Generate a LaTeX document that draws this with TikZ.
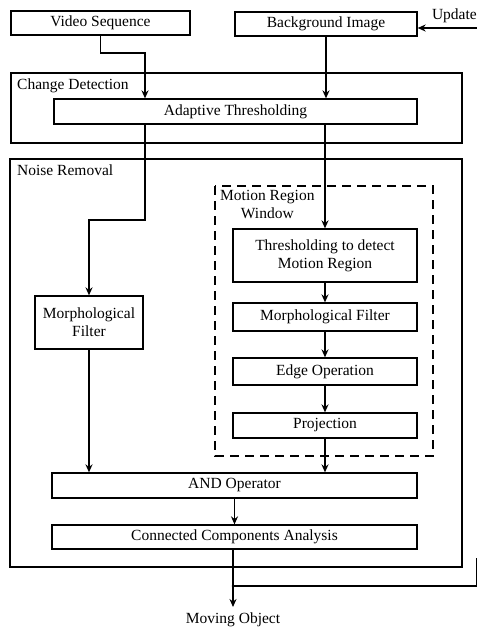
\documentclass[tikz,border=0pt]{standalone}
\usepackage{fontspec}
\setmainfont{Liberation Serif}
\usetikzlibrary{arrows.meta}
\begin{document}
\begin{tikzpicture}[x=1pt,y=-1pt,
  every node/.style={font=\fontsize{15.5}{18}\selectfont},
  box/.style={draw,line width=1.3pt,rectangle,inner sep=0pt,align=center},
  frame/.style={draw,line width=1.3pt},
  dframe/.style={draw,line width=2.6pt,dash pattern=on 9pt off 6pt},
  arr/.style={line width=1.3pt,-{Stealth[length=8pt,width=7pt]}},
  ln/.style={line width=1.3pt},
  lbl/.style={anchor=north west,inner sep=0pt}]
\useasboundingbox (0,0) rectangle (477,630);
% frames
\draw[frame] (11,73) rectangle (462,143);
\node[lbl] (cdl) at (17,79) {Change Detection};
\draw[frame] (10,159) rectangle (462,567);
\node[lbl] (nrl) at (17,165) {Noise Removal};
\draw[dframe] (215,186) rectangle (433,456);
\node[lbl,align=center] (mrl) at (220,190) {Motion Region\\Window};
% boxes
\node[box,minimum width=179pt,minimum height=24pt] (vid) at (100.5,23) {Video Sequence};
\node[box,minimum width=182pt,minimum height=24pt] (bg) at (326,24) {Background Image};
\node[anchor=south east,inner sep=0pt] (upd) at (477,23) {Update};
\node[box,minimum width=363pt,minimum height=25pt] (adapt) at (235.5,111.5) {Adaptive Thresholding};
\node[box,minimum width=108pt,minimum height=53pt] (mf1) at (89,322.5) {Morphological\\Filter};
\node[box,minimum width=184pt,minimum height=53pt] (thr) at (325,255.5) {Thresholding to detect\\Motion Region};
\node[box,minimum width=184pt,minimum height=28pt] (mf2) at (325,317) {Morphological Filter};
\node[box,minimum width=184pt,minimum height=27pt] (edge) at (325,371.5) {Edge Operation};
\node[box,minimum width=184pt,minimum height=25pt] (proj) at (325,425.5) {Projection};
\node[box,minimum width=365pt,minimum height=25pt] (and) at (234.5,485.5) {AND Operator};
\node[box,minimum width=365pt,minimum height=24pt] (cca) at (234.5,537) {Connected Components Analysis};
\node[inner sep=0pt] (mo) at (233,620) {Moving Object};
% coordinates
\coordinate (u0) at (477,28);
\coordinate (v1) at (100.5,53);
\coordinate (v2) at (145,53);
\coordinate (l1) at (145,220);
\coordinate (l2) at (89,220);
\coordinate (j) at (233,586);
\coordinate (mend) at (233,607);
\coordinate (f1) at (477,586);
\coordinate (f2) at (477,558);
% connectors
\draw[arr] (u0) -- (bg.east |- u0);
\draw[arr] (vid.south) -- (v1) -- (v2) -- (v2 |- adapt.north);
\draw[arr] (bg.south) -- (bg.south |- adapt.north);
\draw[arr] (adapt.south -| l1) -- (l1) -- (l2) -- (mf1.north);
\draw[arr] (adapt.south -| thr.north) -- (thr.north);
\draw[arr] (thr.south) -- (mf2.north);
\draw[arr] (mf2.south) -- (edge.north);
\draw[arr] (edge.south) -- (proj.north);
\draw[arr] (proj.south) -- (proj.south |- and.north);
\draw[arr] (mf1.south) -- (mf1.south |- and.north);
\draw[arr] (and.south -| cca.north) -- (cca.north);
\draw[arr] (cca.south -| j) -- (j) -- (mend);
\draw[ln] (j) -- (f1) -- (f2);
\fill (j) circle (1.4pt);
\end{tikzpicture}
\end{document}
